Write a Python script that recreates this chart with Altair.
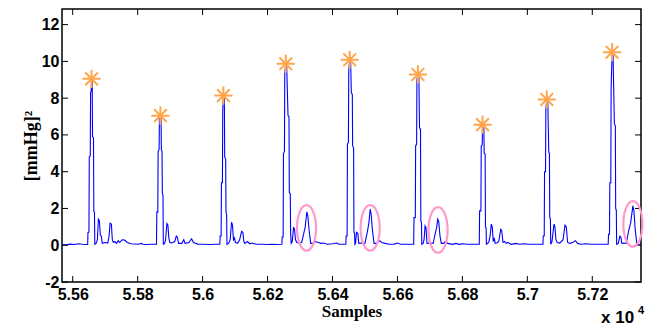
import altair as alt
import pandas as pd

# ---- signal: (sample, value) ----
beat1 = [(55567,0.03),(55580,0.02),(55592,0.06),(55605,0.04),(55618,0.08),(55630,0.05),(55640,0.04),
         (55646,0.04),(55647,0.70),(55650,0.72),(55651,4.80),(55654,4.85),(55655,8.30),(55657,8.40),
         (55658,9.05),(55660,8.90),(55661,5.90),(55664,5.85),(55665,1.85),(55667,1.80),(55668,0.05),
         (55672,0.10),(55676,0.30),(55679,1.42),(55682,1.35),(55685,0.55),(55688,0.50),(55691,0.10),
         (55700,0.15),(55708,0.12),(55712,0.50),(55715,1.20),(55719,1.15),(55722,0.30),(55725,0.15),
         (55730,0.20),(55735,0.10),(55740,0.25),(55745,0.15),(55752,0.30),(55760,0.28),(55768,0.15),
         (55780,0.08),(55800,0.05),(55813,0.10),(55816,0.05),(55825,0.04),(55845,0.05),(55856,0.05)]
beat2 = [(55858,0.05),(55859,1.80),(55862,1.80),(55863,5.10),(55866,5.20),(55867,6.90),(55870,7.05),
         (55872,6.95),(55873,5.20),(55875,5.10),(55876,2.80),(55878,2.75),(55879,0.05),(55883,0.10),
         (55886,0.30),(55890,1.18),(55893,1.10),(55896,0.40),(55899,0.15),(55905,0.12),(55914,0.20),
         (55919,0.50),(55922,0.45),(55926,0.10),(55936,0.10),(55942,0.30),(55946,0.10),(55958,0.15),
         (55966,0.35),(55972,0.15),(55985,0.06),(56000,0.05),(56020,0.04),(56040,0.05),(56052,0.05)]
beat3 = [(56053,0.05),(56054,0.50),(56057,0.50),(56058,3.40),(56061,3.40),(56062,7.30),(56064,8.14),
         (56067,8.00),(56068,4.80),(56071,4.70),(56072,1.80),(56074,1.70),(56075,0.05),(56080,0.10),
         (56085,0.30),(56089,1.25),(56092,1.10),(56095,0.30),(56098,0.40),(56101,0.15),(56108,0.12),
         (56114,0.30),(56120,0.75),(56124,0.70),(56127,0.20),(56130,0.10),(56138,0.20),(56145,0.08),
         (56152,0.12),(56165,0.05),(56185,0.05),(56200,0.04),(56215,0.05),(56230,0.04),(56243,0.05)]
beat4 = [(56244,0.05),(56245,0.45),(56248,0.45),(56249,5.00),(56252,5.10),(56253,9.30),(56256,9.87),
         (56259,9.70),(56263,7.05),(56266,7.00),(56267,2.87),(56270,2.80),(56271,0.60),(56273,0.10),
         (56276,0.20),(56280,0.96),(56283,0.90),(56286,0.30),(56290,0.15),(56298,0.12),(56305,0.15),
         (56311,0.60),(56316,1.00),(56321,1.82),(56324,1.60),(56328,0.80),(56333,0.10),(56340,0.10),
         (56348,0.20),(56356,0.15),(56365,0.10),(56372,0.12),(56385,0.05),(56400,0.08),(56413,0.12),
         (56420,0.05),(56438,0.05)]
beat5 = [(56441,0.05),(56442,0.50),(56445,0.50),(56446,5.50),(56449,5.60),(56450,9.50),(56453,10.09),
         (56456,9.90),(56458,8.30),(56461,8.20),(56462,5.40),(56465,5.30),(56466,0.70),(56468,0.65),
         (56469,0.05),(56471,0.10),(56474,0.70),(56478,0.65),(56481,0.10),(56490,0.12),(56500,0.10),
         (56507,0.70),(56512,1.20),(56516,1.96),(56519,1.70),(56523,0.80),(56528,0.10),(56535,0.10),
         (56545,0.25),(56552,0.15),(56562,0.10),(56575,0.05),(56590,0.06),(56600,0.12),(56610,0.05),
         (56630,0.05),(56649,0.05)]
beat6 = [(56650,0.05),(56651,1.50),(56655,1.50),(56656,5.40),(56659,5.50),(56660,9.00),(56663,9.29),
         (56666,9.10),(56668,6.40),(56671,6.30),(56672,1.30),(56674,1.25),(56675,0.05),(56679,0.10),
         (56682,0.30),(56685,1.05),(56688,0.95),(56691,0.10),(56700,0.12),(56710,0.10),(56716,0.60),
         (56721,1.00),(56724,1.42),(56727,1.30),(56731,0.50),(56735,0.10),(56742,0.10),(56748,0.20),
         (56755,0.10),(56770,0.05),(56780,0.10),(56790,0.05),(56800,0.08),(56815,0.05),(56830,0.05),
         (56851,0.05)]
beat7 = [(56852,0.05),(56853,1.87),(56857,1.87),(56858,5.40),(56861,5.45),(56862,6.56),(56866,6.50),
         (56867,5.00),(56870,4.96),(56871,1.00),(56873,0.95),(56874,0.05),(56878,0.10),(56882,0.20),
         (56886,0.60),(56889,1.15),(56892,1.00),(56895,0.20),(56898,0.40),(56901,0.10),(56906,0.12),
         (56912,0.20),(56918,0.87),(56921,0.80),(56925,0.15),(56930,0.20),(56935,0.10),(56940,0.15),
         (56950,0.05),(56965,0.10),(56975,0.05),(56990,0.08),(57005,0.05),(57030,0.05),(57047,0.05)]
beat8 = [(57048,0.05),(57049,0.50),(57052,0.50),(57053,4.00),(57056,4.00),(57057,7.40),(57060,7.93),
         (57063,7.80),(57066,5.05),(57068,5.00),(57069,1.50),(57071,1.45),(57072,0.05),(57076,0.20),
         (57082,1.15),(57085,1.00),(57088,0.30),(57092,0.15),(57100,0.12),(57110,0.30),(57116,1.09),
         (57120,1.00),(57124,0.15),(57130,0.10),(57140,0.15),(57148,0.25),(57155,0.10),(57165,0.05),
         (57180,0.08),(57195,0.05),(57220,0.05),(57249,0.05)]
beat9 = [(57250,0.60),(57253,0.60),(57254,3.40),(57257,3.40),(57258,8.50),(57261,10.50),(57264,10.30),
         (57268,6.60),(57271,6.50),(57272,2.00),(57274,1.90),(57275,0.05),(57280,0.10),(57285,0.50),
         (57288,0.45),(57291,0.10),(57298,0.12),(57305,0.10),(57312,0.80),(57318,1.20),(57325,2.14),
         (57328,1.90),(57332,0.90),(57337,0.10),(57342,0.05),(57350,0.05)]

# systolic peaks (orange asterisks)
peak_x = [55658, 55870, 56064, 56256, 56453, 56663, 56862, 57060, 57261]
peak_y = [9.05, 7.05, 8.14, 9.87, 10.09, 9.29, 6.56, 7.93, 10.50]

# circled secondary peaks (pink ellipses)
circ_x = [56320, 56516, 56725, 57325]
circ_y = [0.94, 0.94, 0.83, 1.16]

x_ticks = [55600, 55800, 56000, 56200, 56400, 56600, 56800, 57000, 57200]
y_ticks = [-2, 0, 2, 4, 6, 8, 10, 12]

X_DOMAIN = [55567, 57350]
Y_DOMAIN = [-2, 12.85]
W, H = 579, 273

pts = beat1 + beat2 + beat3 + beat4 + beat5 + beat6 + beat7 + beat8 + beat9
sig = pd.DataFrame(pts, columns=["s", "v"])
peaks = pd.DataFrame({"s": peak_x, "v": peak_y})
circs = pd.DataFrame({"s": circ_x, "v": circ_y})
xt = pd.DataFrame({"s": x_ticks})
yt = pd.DataFrame({"v": y_ticks})

xs = alt.Scale(domain=X_DOMAIN, nice=False, zero=False)
ys = alt.Scale(domain=Y_DOMAIN, nice=False, zero=False)

LABEL_FONT = "Liberation Sans"
TITLE_FONT = "Liberation Serif"

x_axis = alt.Axis(
    values=x_ticks, labelExpr="format(datum.value/10000, '.4~g')",
    ticks=False, tickSize=0, domain=False, grid=False,
    labelFont=LABEL_FONT, labelFontWeight="bold", labelFontSize=16, labelColor="black",
    labelPadding=4, title="Samples", titleFont=TITLE_FONT, titleFontWeight="bold",
    titleFontSize=17, titleColor="black", titlePadding=1)
y_axis = alt.Axis(
    values=y_ticks, labelExpr="datum.value < 0 ? '-' + abs(datum.value) : '' + datum.value",
    ticks=False, tickSize=0, domain=False, grid=False,
    labelFont=LABEL_FONT, labelFontWeight="bold", labelFontSize=16, labelColor="black",
    labelPadding=3, title="[mmHg]²", titleFont=TITLE_FONT, titleFontWeight="bold",
    titleFontSize=18, titleColor="black", titlePadding=1)

X = lambda: alt.X("s:Q", scale=xs, axis=x_axis, title="Samples")
Y = lambda: alt.Y("v:Q", scale=ys, axis=y_axis, title="[mmHg]²")

line = alt.Chart(sig).mark_line(color="#0000ff", strokeWidth=1.1, interpolate="linear").encode(
    x=X(), y=Y(), order="s:Q")

STAR = "M -1 0 L 1 0 M 0 -1 L 0 1 M -0.7 -0.7 L 0.7 0.7 M -0.7 0.7 L 0.7 -0.7"
stars = alt.Chart(peaks).mark_point(shape=STAR, size=330, filled=False, color="#ffa64d",
                                    strokeWidth=2, opacity=1).encode(x=X(), y=Y())

ELL = "M -0.42 0 A 0.42 1 0 1 0 0.42 0 A 0.42 1 0 1 0 -0.42 0 Z"
ells = alt.Chart(circs).mark_point(shape=ELL, size=2070, filled=False, color="#ff99cc",
                                   strokeWidth=2.2, opacity=1).encode(x=X(), y=Y())

tick_style = dict(color="black", strokeWidth=1)
bt = alt.Chart(xt).mark_rule(**tick_style).encode(x=X(), y=alt.value(H), y2=alt.value(H - 6))
tt = alt.Chart(xt).mark_rule(**tick_style).encode(x=X(), y=alt.value(0), y2=alt.value(6))
lt = alt.Chart(yt).mark_rule(**tick_style).encode(y=Y(), x=alt.value(0), x2=alt.value(6))
rt = alt.Chart(yt).mark_rule(**tick_style).encode(y=Y(), x=alt.value(W), x2=alt.value(W - 6))

exp_main = alt.Chart(pd.DataFrame({"t": ["x 10"]})).mark_text(
    font=LABEL_FONT, fontWeight="bold", fontSize=17, color="black", align="left", baseline="alphabetic"
).encode(text="t:N", x=alt.value(539), y=alt.value(314))
exp_sup = alt.Chart(pd.DataFrame({"t": ["4"]})).mark_text(
    font=LABEL_FONT, fontWeight="bold", fontSize=11, color="black", align="left", baseline="alphabetic"
).encode(text="t:N", x=alt.value(576), y=alt.value(305))

chart = alt.layer(line, bt, tt, lt, rt, stars, ells, exp_main, exp_sup).properties(
    width=W, height=H,
    autosize=alt.AutoSizeParams(type="none"),
    padding={"left": 54, "top": 1, "right": 4, "bottom": 44},
    background="white",
).configure_view(stroke="black", strokeWidth=1.5)

chart.save("out.html", embed_options={"renderer": "svg", "actions": False})
